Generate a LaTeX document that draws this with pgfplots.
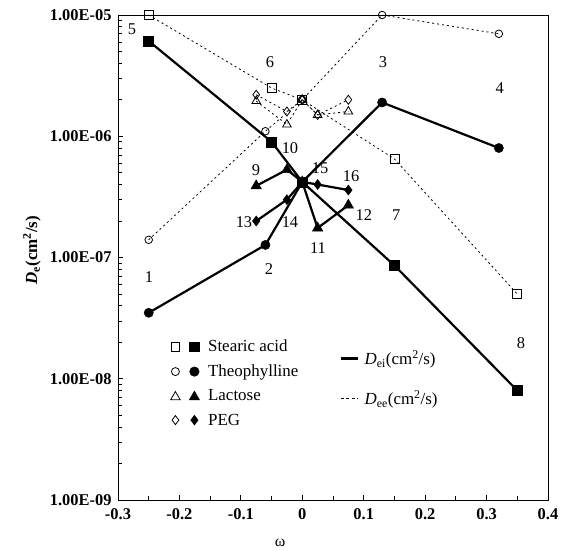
\documentclass[border=0pt]{standalone}
\usepackage{fontspec}
\setmainfont{Liberation Serif}
\usepackage{pgfplots}
\pgfplotsset{compat=1.18}
\begin{document}
\begin{tikzpicture}
\useasboundingbox (-118bp,-50bp) rectangle (453bp,500bp);
\begin{axis}[
  at={(0,0)}, anchor=south west,
  width=430bp, height=485bp, scale only axis,
  ymode=log,
  xmin=-0.3, xmax=0.4, ymin=1e-9, ymax=1e-5,
  axis line style={black, line width=0.9bp},
  xtick={-0.3,-0.2,-0.1,0,0.1,0.2,0.3,0.4},
  xticklabels={-0.3,-0.2,-0.1,0,0.1,0.2,0.3,0.4},
  minor xtick={-0.25,-0.15,-0.05,0.05,0.15,0.25,0.35},
  ytick={1e-9,1e-8,1e-7,1e-6,1e-5},
  yticklabels={1.00E-09,1.00E-08,1.00E-07,1.00E-06,1.00E-05},
  minor ytick={2e-9,3e-9,4e-9,5e-9,6e-9,7e-9,8e-9,9e-9,
               2e-8,3e-8,4e-8,5e-8,6e-8,7e-8,8e-8,9e-8,
               2e-7,3e-7,4e-7,5e-7,6e-7,7e-7,8e-7,9e-7,
               2e-6,3e-6,4e-6,5e-6,6e-6,7e-6,8e-6,9e-6},
  xtick pos=left, ytick pos=left, tick align=inside,
  major tick length=5bp, minor tick length=4bp,
  tick style={black, line width=0.8bp},
  tick label style={font=\fontsize{16.5}{18}\selectfont\bfseries},
  xticklabel style={yshift=-5bp},
  yticklabel style={xshift=-3bp},
  xlabel={ω},
  xlabel style={at={(rel axis cs:0.377,-0.089)}, anchor=center, font=\fontsize{16}{18}\selectfont},
  ylabel={\textbf{\textit{D}\textsubscript{e}(cm\textsuperscript{2}/s)}},
  ylabel style={at={(rel axis cs:-0.2,0.515)}, anchor=center, font=\fontsize{17}{18}\selectfont},
  legend style={at={(rel axis cs:0.122,0.333)}, anchor=north west, draw=none, fill=none,
    font=\fontsize{17}{18}\selectfont, row sep=8.5bp, column sep=7bp, inner sep=0pt,
    nodes={inner sep=1.5bp}},
  legend cell align=left,
  clip=false,
]
% Dee (dotted, open)
\addplot[forget plot, black, line width=0.8bp, dash pattern=on 2bp off 3bp,
  mark=square, mark size=4.5bp, mark options={solid, line width=0.8bp}]
  coordinates {(-0.25,1.0e-5) (-0.05,2.5e-6) (0,2.0e-6) (0.15,6.5e-7) (0.35,5.0e-8)};
\addplot[forget plot, black, line width=0.8bp, dash pattern=on 2bp off 3bp,
  mark=o, mark size=3.8bp, mark options={solid, line width=0.8bp}]
  coordinates {(-0.25,1.4e-7) (-0.06,1.1e-6) (0,2.0e-6) (0.13,1.0e-5) (0.32,7.0e-6)};
\addplot[forget plot, black, line width=0.8bp, dash pattern=on 2bp off 3bp,
  mark=triangle, mark size=5bp, mark options={solid, line width=0.8bp}]
  coordinates {(-0.075,1.95e-6) (-0.025,1.25e-6) (0,2.0e-6) (0.025,1.5e-6) (0.075,1.6e-6)};
\addplot[forget plot, black, line width=0.8bp, dash pattern=on 2bp off 3bp,
  mark=diamond, mark size=4.5bp, mark options={solid, line width=0.8bp}]
  coordinates {(-0.075,2.2e-6) (-0.025,1.6e-6) (0,2.0e-6) (0.025,1.5e-6) (0.075,2.0e-6)};
% Dei (solid, filled)
\addplot[forget plot, black, line width=2.2bp,
  mark=square*, mark size=5bp, mark options={solid, line width=0.5bp}]
  coordinates {(-0.25,6.1e-6) (-0.05,9.0e-7) (0,4.2e-7) (0.15,8.6e-8) (0.35,8.0e-9)};
\addplot[forget plot, black, line width=2.2bp,
  mark=*, mark size=4.6bp, mark options={solid, line width=0.5bp}]
  coordinates {(-0.25,3.5e-8) (-0.06,1.27e-7) (0,4.2e-7) (0.13,1.9e-6) (0.32,8.0e-7)};
\addplot[forget plot, black, line width=2.2bp,
  mark=triangle*, mark size=6bp, mark options={solid, line width=0.5bp}]
  coordinates {(-0.075,3.9e-7) (-0.025,5.3e-7) (0,4.2e-7) (0.025,1.75e-7) (0.075,2.7e-7)};
\addplot[forget plot, black, line width=2.2bp,
  mark=diamond*, mark size=5bp, mark options={solid, line width=0.5bp}]
  coordinates {(-0.075,2.0e-7) (-0.025,3.0e-7) (0,4.2e-7) (0.025,4.0e-7) (0.075,3.6e-7)};
% point numbers
\begin{scope}[every node/.style={font=\fontsize{16.5}{18}\selectfont, inner sep=0pt}]
\node at (rel axis cs:0.0326,0.971) {5};
\node at (rel axis cs:0.3535,0.903) {6};
\node at (rel axis cs:0.616,0.903) {3};
\node at (rel axis cs:0.888,0.849) {4};
\node at (rel axis cs:0.400,0.726) {10};
\node at (rel axis cs:0.321,0.680) {9};
\node at (rel axis cs:0.470,0.685) {15};
\node at (rel axis cs:0.542,0.668) {16};
\node at (rel axis cs:0.293,0.573) {13};
\node at (rel axis cs:0.400,0.573) {14};
\node at (rel axis cs:0.572,0.588) {12};
\node at (rel axis cs:0.647,0.588) {7};
\node at (rel axis cs:0.465,0.520) {11};
\node at (rel axis cs:0.351,0.476) {2};
\node at (rel axis cs:0.072,0.460) {1};
\node at (rel axis cs:0.937,0.324) {8};
\end{scope}
% legend (materials)
\addlegendimage{legend image code/.code={
  \draw[black, line width=0.8bp] plot[mark=square, mark size=4.3bp] coordinates {(5bp,0bp)};
  \draw[black] plot[mark=square*, mark size=4.8bp] coordinates {(24bp,0bp)};}}
\addlegendentry{Stearic acid}
\addlegendimage{legend image code/.code={
  \draw[black, line width=0.8bp] plot[mark=o, mark size=4bp] coordinates {(5bp,0bp)};
  \draw[black] plot[mark=*, mark size=4.8bp] coordinates {(24bp,0bp)};}}
\addlegendentry{Theophylline}
\addlegendimage{legend image code/.code={
  \draw[black, line width=0.8bp] plot[mark=triangle, mark size=5.5bp] coordinates {(5bp,-1bp)};
  \draw[black] plot[mark=triangle*, mark size=6bp] coordinates {(24bp,-1bp)};}}
\addlegendentry{Lactose}
\addlegendimage{legend image code/.code={
  \draw[black, line width=0.8bp] plot[mark=diamond, mark size=4.5bp] coordinates {(5bp,0bp)};
  \draw[black] plot[mark=diamond*, mark size=5bp] coordinates {(24bp,0bp)};}}
\addlegendentry{PEG}
\end{axis}
\begin{axis}[
  at={(0,0)}, anchor=south west,
  width=430bp, height=485bp, scale only axis,
  hide axis, xmin=0, xmax=1, ymin=0, ymax=1,
  legend style={at={(rel axis cs:0.515,0.311)}, anchor=north west, draw=none, fill=none,
    font=\fontsize{17}{18}\selectfont, row sep=21bp, column sep=4bp, inner sep=0pt,
    nodes={inner sep=1.5bp}},
  legend cell align=left,
]
\addlegendimage{black, line width=2.5bp}
\addlegendentry{\textit{D}\textsubscript{ei}(cm\textsuperscript{2}/s)}
\addlegendimage{black, line width=0.8bp, dash pattern=on 3bp off 2.5bp}
\addlegendentry{\textit{D}\textsubscript{ee}(cm\textsuperscript{2}/s)}
\end{axis}
\end{tikzpicture}
\end{document}
